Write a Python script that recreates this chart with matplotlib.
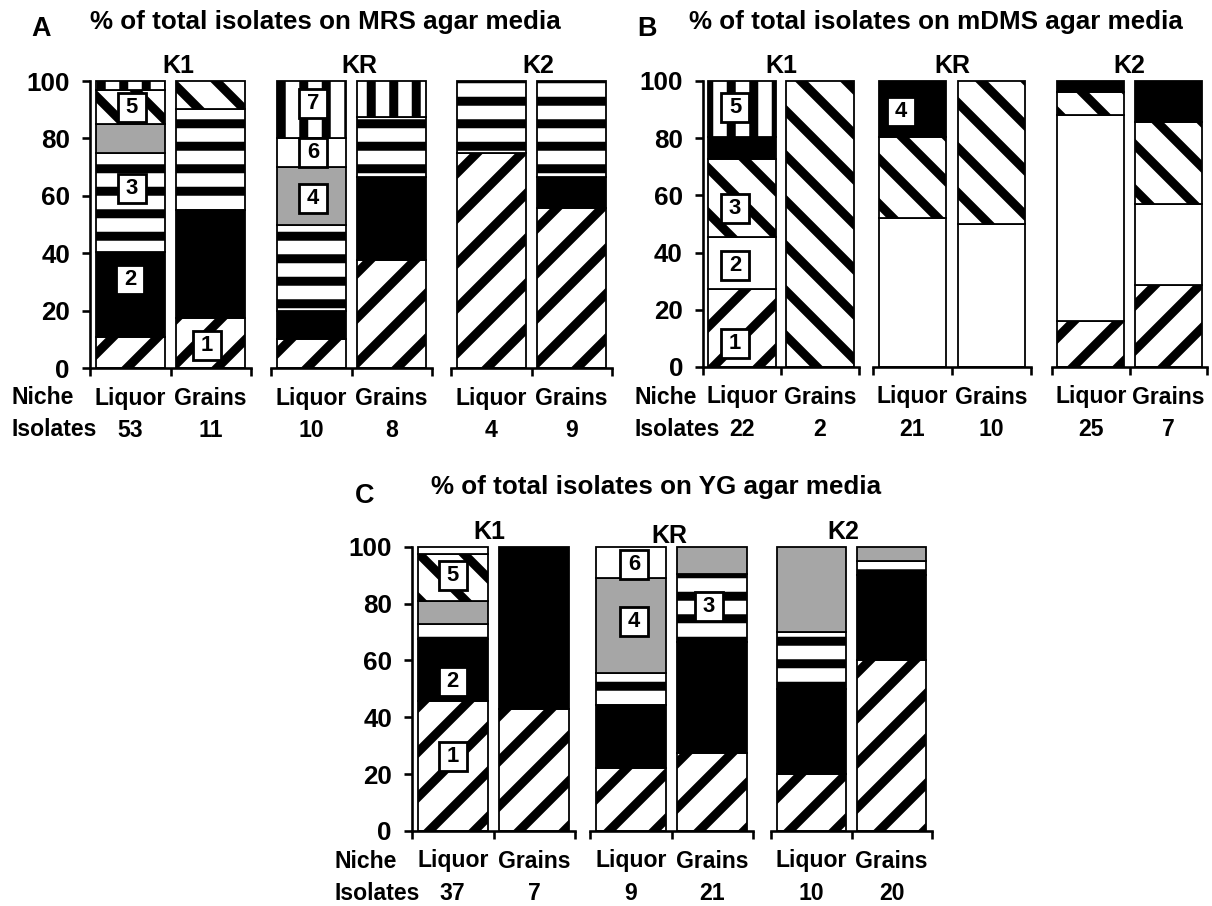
import matplotlib
matplotlib.use("Agg")
import matplotlib.pyplot as plt
from matplotlib.patches import Rectangle
from matplotlib.transforms import ScaledTranslation

# ---------------- data ----------------
groups = ["K1", "KR", "K2"]
niches = ["Liquor", "Grains"]

# Panel A (MRS): species order bottom->top: 1..7
A_K1 = [[10.7, 29.8, 34.3, 10.1, 12.0, 0.0, 3.1],   # Liquor
        [17.5, 37.5, 35.1, 0.0, 9.9, 0.0, 0.0]]     # Grains
A_KR = [[10.0, 10.0, 30.0, 20.0, 0.0, 10.0, 20.0],
        [37.5, 29.2, 20.8, 0.0, 0.0, 0.0, 12.5]]
A_K2 = [[75.0, 0.0, 25.0, 0.0, 0.0, 0.0, 0.0],
        [55.6, 11.1, 33.3, 0.0, 0.0, 0.0, 0.0]]
A_isolates = [53, 11, 10, 8, 4, 9]

# Panel B (mDMS): species order bottom->top: 1..5
B_K1 = [[27.2, 18.1, 27.4, 7.8, 19.5],
        [0.0, 0.0, 100.0, 0.0, 0.0]]
B_KR = [[0.0, 52.0, 28.5, 19.5, 0.0],
        [0.0, 50.0, 50.0, 0.0, 0.0]]
B_K2 = [[16.0, 72.0, 8.0, 4.0, 0.0],
        [28.6, 28.5, 28.6, 14.3, 0.0]]
B_isolates = [22, 2, 21, 10, 25, 7]

# Panel C (YG): species order bottom->top: 1..6
C_K1 = [[45.9, 21.6, 5.4, 8.1, 16.3, 2.7],
        [42.9, 57.1, 0.0, 0.0, 0.0, 0.0]]
C_KR = [[22.0, 22.4, 11.2, 33.3, 0.0, 11.1],
        [27.5, 39.0, 24.0, 9.5, 0.0, 0.0]]
C_K2 = [[20.0, 30.0, 20.0, 30.0, 0.0, 0.0],
        [60.0, 30.0, 5.0, 5.0, 0.0, 0.0]]
C_isolates = [37, 7, 9, 21, 10, 20]

# ---------------- styling ----------------
DPI = 270
W, H = 1212, 906


def pt(px):
    return px * 72.0 / DPI


plt.rcParams["font.family"] = ["Liberation Sans", "DejaVu Sans"]
plt.rcParams["font.weight"] = "bold"
plt.rcParams["hatch.linewidth"] = pt(9)
plt.rcParams["hatch.color"] = "black"

STYLES = {
    "diag": dict(facecolor="white", hatch="//"),
    "backdiag": dict(facecolor="white", hatch="\\\\"),
    "black": dict(facecolor="black"),
    "hstripe": dict(facecolor="white", hatch="--"),
    "vstripe": dict(facecolor="white", hatch="||"),
    "gray": dict(facecolor="#a6a6a6"),
    "white": dict(facecolor="white"),
}
A_patterns = ["diag", "black", "hstripe", "gray", "backdiag", "white", "vstripe"]
B_patterns = ["diag", "white", "backdiag", "black", "vstripe"]
C_patterns = ["diag", "black", "hstripe", "gray", "backdiag", "white"]

fig = plt.figure(figsize=(W / DPI, H / DPI), dpi=DPI)
fig.patch.set_facecolor("white")

BAR_W = 0.86


def fx(x):
    return x / W


def fy(y):
    return 1 - y / H


def ftext(x, y, s, size, ha="left", va="center"):
    fig.text(fx(x), fy(y), s, fontsize=pt(size), ha=ha, va=va,
             fontweight="bold", color="black")


def add_label(ax, x, y, s):
    w, h = 28, 29
    tr = fig.dpi_scale_trans + ScaledTranslation(x, y, ax.transData)
    r = Rectangle((-w / 2 / DPI, -h / 2 / DPI), w / DPI, h / DPI,
                  facecolor="white", edgecolor="black", linewidth=pt(2.8),
                  transform=tr, clip_on=False, zorder=5)
    ax.add_patch(r)
    ax.text(x, y, s, ha="center", va="center", fontsize=pt(22),
            fontweight="bold", zorder=6)


def draw_panel(data_groups, patterns, extents, ytop, ybot, isolates,
               labels, letter, letter_xy, title, title_xy, label_x,
               grp_dy=(0, 0, 0), grp_dx=(0, 0, 0)):
    axes = []
    for gi, (vals, (x0, x1)) in enumerate(zip(data_groups, extents)):
        ax = fig.add_axes([fx(x0), fy(ybot), (x1 - x0) / W, (ybot - ytop) / H])
        ax.set_xlim(0, 2)
        ax.set_ylim(0, 100)
        ax.patch.set_alpha(0)
        for bi, seg in enumerate(vals):
            bottom = 0.0
            for si, v in enumerate(seg):
                if v <= 0:
                    continue
                ax.bar(bi + 0.5, v, width=BAR_W, bottom=bottom,
                       edgecolor="black", linewidth=pt(1.8), clip_on=False,
                       **STYLES[patterns[si]])
                bottom += v
        for sp in ("top", "right"):
            ax.spines[sp].set_visible(False)
        ax.spines["bottom"].set_linewidth(pt(2.6))
        ax.set_xticks([0, 1, 2])
        ax.set_xticklabels([])
        ax.tick_params(axis="x", direction="out", length=pt(8), width=pt(2.6))
        if gi == 0:
            ax.spines["left"].set_linewidth(pt(2.6))
            ax.set_yticks([0, 20, 40, 60, 80, 100])
            ax.tick_params(axis="y", direction="out", length=pt(8),
                           width=pt(2.6), labelsize=pt(26), pad=pt(12))
            for t in ax.get_yticklabels():
                t.set_fontweight("bold")
        else:
            ax.spines["left"].set_visible(False)
            ax.set_yticks([])
        ax.annotate(groups[gi], xy=(1.0 + grp_dx[gi], 100), xycoords="data",
                    xytext=(0, pt(15 - grp_dy[gi])), textcoords="offset points",
                    ha="center", va="center", fontsize=pt(25),
                    fontweight="bold", annotation_clip=False)
        for bi in range(2):
            ax.annotate(niches[bi], xy=(bi + 0.5, 0), xycoords=("data", "axes fraction"),
                        xytext=(0, -pt(30)), textcoords="offset points",
                        ha="center", va="center", fontsize=pt(23),
                        fontweight="bold", annotation_clip=False)
            ax.annotate(str(isolates[gi * 2 + bi]), xy=(bi + 0.5, 0),
                        xycoords=("data", "axes fraction"),
                        xytext=(0, -pt(62)), textcoords="offset points",
                        ha="center", va="center", fontsize=pt(23),
                        fontweight="bold", annotation_clip=False)
        axes.append(ax)
    for (gi, x, y, s) in labels:
        add_label(axes[gi], x, y, s)
    ftext(label_x, ybot + 30, "Niche", 23)
    ftext(label_x, ybot + 62, "Isolates", 23)
    ftext(letter_xy[0], letter_xy[1], letter, 27, ha="center")
    ftext(title_xy[0], title_xy[1], title, 26)


A_labels = [(0, 0.52, 90.6, "5"), (0, 0.52, 62.7, "3"), (0, 0.5, 30.7, "2"),
            (0, 1.45, 8.0, "1"), (1, 0.52, 92.0, "7"), (1, 0.52, 75.0, "6"),
            (1, 0.52, 59.0, "4")]
B_labels = [(0, 0.41, 90.6, "5"), (0, 0.41, 55.5, "3"), (0, 0.41, 35.6, "2"),
            (0, 0.41, 8.2, "1"), (1, 0.35, 89.3, "4")]
C_labels = [(0, 0.5, 89.7, "5"), (0, 0.5, 52.5, "2"), (0, 0.5, 26.1, "1"),
            (1, 0.54, 93.6, "6"), (1, 0.54, 73.6, "4"), (1, 1.46, 79.0, "3")]

draw_panel([A_K1, A_KR, A_K2], A_patterns,
           [(90, 251), (271, 432), (451, 612)], 81, 368, A_isolates,
           A_labels, "A", (41, 29), "% of total isolates on MRS agar media",
           (90, 22), 11.5, grp_dx=(0.1, 0.1, 0.08))
draw_panel([B_K1, B_KR, B_K2], B_patterns,
           [(703, 859), (873, 1031), (1052, 1207)], 81, 367, B_isolates,
           B_labels, "B", (647, 29), "% of total isolates on mDMS agar media",
           (689, 22), 635)
draw_panel([C_K1, C_KR, C_K2], C_patterns,
           [(412, 575), (590, 753), (771, 932)], 546.7, 831, C_isolates,
           C_labels, "C", (365, 496), "% of total isolates on YG agar media",
           (431, 487), 334, grp_dy=(0, 4, 0), grp_dx=(-0.05, -0.03, -0.1))

fig.savefig("out.png", dpi=DPI, facecolor="white")
